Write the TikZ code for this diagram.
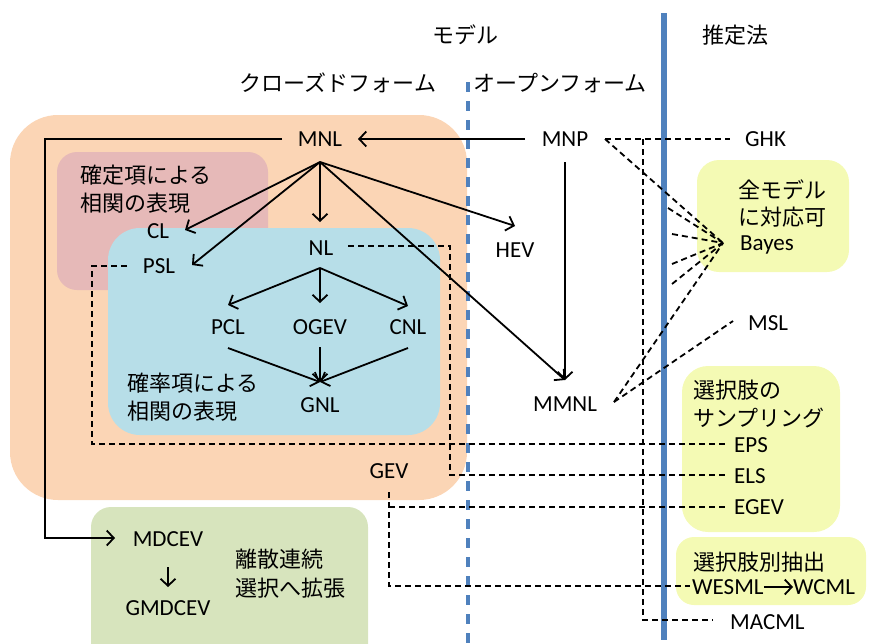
\documentclass[tikz,border=0pt]{standalone}
\usepackage{fontspec}
\setmainfont{Carlito}
\newfontfamily\jpfont{Noto Sans CJK JP}
\usetikzlibrary{arrows.meta}
\definecolor{closedbg}{HTML}{FBD5B5}
\definecolor{detbg}{HTML}{E6B9B8}
\definecolor{probbg}{HTML}{B7DEE8}
\definecolor{estbg}{HTML}{F4FAB4}
\definecolor{extbg}{HTML}{D7E4BD}
\definecolor{divblue}{HTML}{4F81BD}
\begin{document}
\begin{tikzpicture}[x=1pt,y=-1pt,
  lat/.style={font=\fontsize{23}{27}\selectfont, inner sep=0pt, text height=14.8pt, text depth=0pt},
  jp/.style={font=\jpfont\fontsize{22}{28}\selectfont, inner sep=0pt, text height=19.4pt, text depth=2.6pt},
  arr/.style={line width=1.8pt, -{Straight Barb[length=7pt,width=15pt]}},
  sol/.style={line width=1.8pt},
  dsh/.style={line width=1.8pt, dash pattern=on 6pt off 4pt},
  region/.style={draw=none}]
\useasboundingbox (0,0) rectangle (869,643);
% regions
\fill[closedbg, rounded corners=48pt] (10,115) rectangle (467,500);
\fill[detbg, rounded corners=20pt] (57,152) rectangle (268,290);
\fill[probbg, rounded corners=32pt] (108,228) rectangle (440,435);
\fill[estbg, rounded corners=22pt] (697,160) rectangle (849,272);
\fill[estbg, rounded corners=26pt] (682,366) rectangle (840,532);
\fill[estbg, rounded corners=18pt] (676,537) rectangle (866,605);
\fill[extbg, rounded corners=20pt] (91,507) rectangle (368,670);
% dividers
\draw[divblue, line width=6pt] (664,13) -- (664,640);
\draw[divblue, line width=3.5pt, dash pattern=on 10pt off 9pt] (468,82) -- (468,643);
% headers
\node[jp] (hmodel) at (465,35) {モデル};
\node[jp] (hest) at (735,35) {推定法};
\node[jp] (hclosed) at (338,83) {クローズドフォーム};
\node[jp] (hopen) at (560,83) {オープンフォーム};
% region labels
\node[jp, anchor=west] (det1) at (80,175) {確定項による};
\node[jp, anchor=west] (det2) at (80,203) {相関の表現};
\node[jp, anchor=west] (prob1) at (127,383) {確率項による};
\node[jp, anchor=west] (prob2) at (127,411) {相関の表現};
\node[jp, anchor=west] (all1) at (738,190) {全モデル};
\node[jp, anchor=west] (all2) at (738,217) {に対応可};
\node[jp, anchor=west] (samp1) at (693,390) {選択肢の};
\node[jp, anchor=west] (samp2) at (693,418) {サンプリング};
\node[jp, anchor=west] (alt1) at (693,562) {選択肢別抽出};
\node[jp, anchor=west] (ext1) at (235,559) {離散連続};
\node[jp, anchor=west] (ext2) at (235,588) {選択へ拡張};
% model nodes
\node[lat] (MNL) at (320,139) {MNL};
\node[lat] (MNP) at (565,139) {MNP};
\node[lat, anchor=west] (GHK) at (745,139) {GHK};
\node[lat] (CL) at (158,231) {CL};
\node[lat] (PSL) at (159,266) {PSL};
\node[lat] (NL) at (321,248) {NL};
\node[lat] (HEV) at (515,250) {HEV};
\node[lat] (PCL) at (228,327) {PCL};
\node[lat] (OGEV) at (320,327) {OGEV};
\node[lat] (CNL) at (408,327) {CNL};
\node[lat] (GNL) at (320,405) {GNL};
\node[lat] (MMNL) at (565,404) {MMNL};
\node[lat, anchor=west] (Bayes) at (740,243) {Bayes};
\node[lat, anchor=west] (MSL) at (748,323) {MSL};
\node[lat, anchor=west] (EPS) at (734,445) {EPS};
\node[lat, anchor=west] (ELS) at (734,476) {ELS};
\node[lat, anchor=west] (EGEV) at (734,507) {EGEV};
\node[lat] (GEV) at (389,471) {GEV};
\node[lat, anchor=west] (WESML) at (692,587) {WESML};
\node[lat, anchor=west] (WCML) at (793,587) {WCML};
\node[lat, anchor=west] (MACML) at (730,622) {MACML};
\node[lat] (MDCEV) at (168,539) {MDCEV};
\node[lat] (GMDCEV) at (168,608) {GMDCEV};
% connection points
\coordinate (mnlS) at (320,162);
\coordinate (mnlW) at (282,139);
\coordinate (mnlE) at (358,139);
\coordinate (mnpW) at (525,139);
\coordinate (mnpE) at (605,139);
\coordinate (mnpS) at (565,162);
\coordinate (clT) at (185,230);
\coordinate (pslT) at (192,265);
\coordinate (nlT) at (320,222);
\coordinate (nlS) at (320,268);
\coordinate (hevT) at (515,226);
\coordinate (mmnlT) at (565,380);
\coordinate (mmnlE) at (614,402);
\coordinate (pclT) at (228,305);
\coordinate (ogevT) at (320,303);
\coordinate (cnlT) at (408,306);
\coordinate (pclS) at (228,348);
\coordinate (ogevS) at (320,347);
\coordinate (cnlS) at (408,348);
\coordinate (gnlT) at (320,382);
\coordinate (bayesW) at (723,243);
\coordinate (pslE) at (127,266);
\coordinate (nlE) at (348,246);
\coordinate (gevS) at (389,492);
\coordinate (mdcevS) at (168,567);
\coordinate (gmdcevT) at (168,587);
\coordinate (mdcevW) at (115,538);
\coordinate (ghkW) at (730,139);
\coordinate (epsW) at (727,444);
\coordinate (elsW) at (725,475);
\coordinate (egevW) at (727,507);
\coordinate (wesmlW) at (690,586);
\coordinate (macmlW) at (713,620);
\coordinate (mslW) at (733,321);
\coordinate (b1) at (668,208);
\coordinate (b2) at (672,234);
\coordinate (b3) at (672,264);
\coordinate (b4) at (672,284);
% solid connectors
\draw[arr] (mnpW) -- (mnlE);
\draw[arr] (mnlW) -- (45,139) -- (45,538) -- (mdcevW);
\draw[arr] (mnlS) -- (clT);
\draw[arr] (mnlS) -- (pslT);
\draw[arr] (mnlS) -- (nlT);
\draw[arr] (mnlS) -- (hevT);
\draw[arr] (mnlS) -- (mmnlT);
\draw[arr] (mnpS) -- (mmnlT);
\draw[arr] (nlS) -- (pclT);
\draw[arr] (nlS) -- (ogevT);
\draw[arr] (nlS) -- (cnlT);
\draw[arr] (pclS) -- (gnlT);
\draw[arr] (ogevS) -- (gnlT);
\draw[arr] (cnlS) -- (gnlT);
\draw[arr] (mdcevS) -- (gmdcevT);
\draw[arr] (WESML.east) -- (WCML.west);
% dashed connectors
\draw[dsh] (mnpE) -- (ghkW);
\draw[dsh] (mnpE) -- (bayesW);
\draw[dsh] (643,139) -- (643,620) -- (macmlW);
\draw[dsh] (b1) -- (bayesW);
\draw[dsh] (b2) -- (bayesW);
\draw[dsh] (b3) -- (bayesW);
\draw[dsh] (b4) -- (bayesW);
\draw[dsh] (mmnlE) -- (bayesW);
\draw[dsh] (mmnlE) -- (mslW);
\draw[dsh] (pslE) -- (92,266) -- (92,444) -- (epsW);
\draw[dsh] (nlE) -- (450,246) -- (450,475) -- (elsW);
\draw[dsh] (gevS) -- (389,586) -- (wesmlW);
\draw[dsh] (389,507) -- (egevW);
\end{tikzpicture}
\end{document}
